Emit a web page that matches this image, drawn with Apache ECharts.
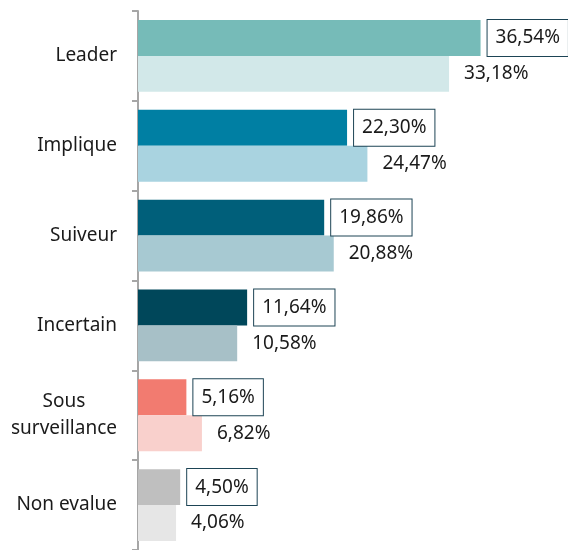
<!DOCTYPE html>
<html>
<head>
<meta charset="utf-8">
<script src="https://cdn.jsdelivr.net/npm/echarts@6/dist/echarts.min.js"></script>
<style>
  html, body { margin: 0; padding: 0; background: #fff; }
  #chart { width: 568px; height: 550px; }
</style>
</head>
<body>
<div id="chart"></div>
<script>
// categories, top to bottom
var categories = ['Leader', 'Implique', 'Suiveur', 'Incertain', 'Sous\nsurveillance', 'Non evalue'];
// first (boxed) series and second series, in %
var valuesA = [36.54, 22.30, 19.86, 11.64, 5.16, 4.50];
var valuesB = [33.18, 24.47, 20.88, 10.58, 6.82, 4.06];
var colorsA = ['#76bbb8', '#007fa3', '#005f7a', '#00475a', '#f27b70', '#bfbfbf'];
var colorsB = ['#d2e8e9', '#a9d3e0', '#a7c9d2', '#a7c0c7', '#f9d0cc', '#e6e6e6'];

var font = 'Noto Sans';
var fs = 19;
var chart = echarts.init(document.getElementById('chart'));

function fmt(p) {
  return p.value.toFixed(2).replace('.', ',') + '%';
}

var option = {
  animation: false,
  textStyle: { fontFamily: font },
  grid: { left: 138, top: 11, width: 375, height: 542 },
  xAxis: {
    type: 'value',
    min: 0,
    max: 40,
    show: false
  },
  yAxis: {
    type: 'category',
    inverse: true,
    data: categories,
    axisLine: { show: true, lineStyle: { color: '#a6a6a6', width: 2 } },
    axisTick: { show: true, length: 6, lineStyle: { color: '#a6a6a6', width: 2 } },
    axisLabel: {
      margin: 21,
      fontSize: fs,
      color: '#1a1a1a',
      fontFamily: font,
      lineHeight: 27,
      formatter: function (v) {
        if (v.indexOf('\n') < 0) return v;
        var parts = v.split('\n');
        return '{c|' + parts[0] + '}\n{n|' + parts[1] + '}';
      },
      rich: {
        c: { align: 'center', fontSize: fs, color: '#1a1a1a', fontFamily: font, lineHeight: 27 },
        n: { fontSize: fs, color: '#1a1a1a', fontFamily: font, lineHeight: 27 }
      }
    }
  },
  series: [
    {
      type: 'bar',
      barGap: 0,
      barCategoryGap: '20%',
      data: valuesA.map(function (v, i) {
        return { value: v, itemStyle: { color: colorsA[i] } };
      }),
      label: {
        show: true,
        position: 'right',
        distance: 7,
        formatter: fmt,
        fontSize: fs,
        fontFamily: font,
        color: '#1a1a1a',
        backgroundColor: '#fff',
        borderColor: '#1d4455',
        borderWidth: 1,
        padding: [8, 8],
        lineHeight: 20
      }
    },
    {
      type: 'bar',
      barGap: 0,
      barCategoryGap: '20%',
      data: valuesB.map(function (v, i) {
        return { value: v, itemStyle: { color: colorsB[i] } };
      }),
      label: {
        show: true,
        position: 'right',
        distance: 15,
        formatter: fmt,
        fontSize: fs,
        fontFamily: font,
        color: '#1a1a1a'
      }
    }
  ]
};

chart.setOption(option);
</script>
</body>
</html>
